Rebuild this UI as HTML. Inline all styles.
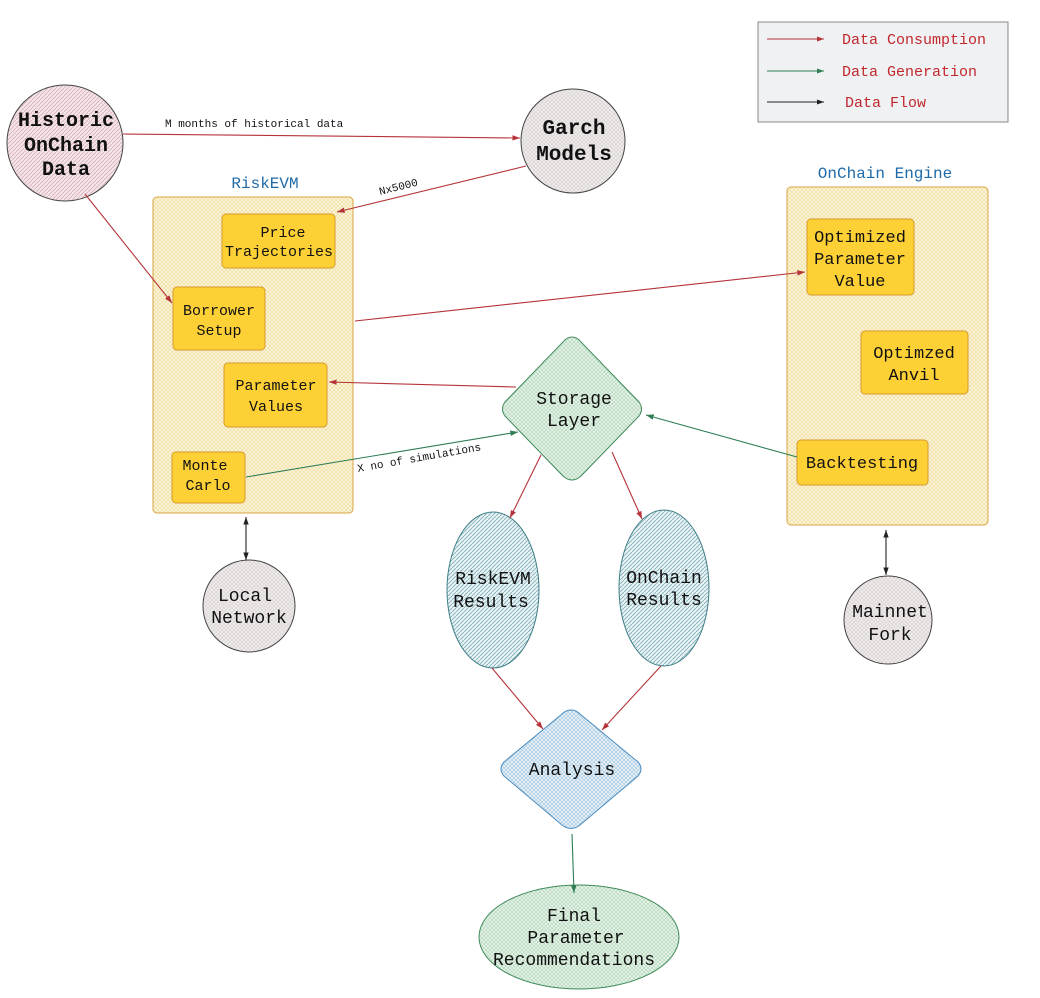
<!DOCTYPE html>
<html><head><style>body{margin:0;background:#fff}svg{display:block}text{font-family:"Liberation Mono","DejaVu Sans Mono",monospace}</style></head>
<body>
<svg width="1040" height="998" viewBox="0 0 1040 998" xmlns="http://www.w3.org/2000/svg">
<defs>
<pattern id="pk" width="4" height="4" patternUnits="userSpaceOnUse"><rect width="4" height="4" fill="#f3e4e7"/><path d="M0 4L4 0" stroke="#d6aab3" stroke-width="0.7"/></pattern>
<pattern id="gy" width="4" height="4" patternUnits="userSpaceOnUse"><rect width="4" height="4" fill="#efebeb"/><path d="M0 4L4 0M0 0L4 4" stroke="#cfc6c6" stroke-width="0.5"/></pattern>
<pattern id="yl" width="4" height="4" patternUnits="userSpaceOnUse"><rect width="4" height="4" fill="#fbf3d6"/><path d="M0 4L4 0M0 0L4 4" stroke="#e8d48c" stroke-width="0.5"/></pattern>
<pattern id="gn" width="4" height="4" patternUnits="userSpaceOnUse"><rect width="4" height="4" fill="#e3f1e6"/><path d="M0 4L4 0M0 0L4 4" stroke="#9ccaa6" stroke-width="0.5"/></pattern>
<pattern id="tl" width="4" height="4" patternUnits="userSpaceOnUse"><rect width="4" height="4" fill="#e8f1f3"/><path d="M0 4L4 0" stroke="#7fb0b8" stroke-width="0.8"/></pattern>
<pattern id="bl" width="4" height="4" patternUnits="userSpaceOnUse"><rect width="4" height="4" fill="#e3eef6"/><path d="M0 4L4 0M0 0L4 4" stroke="#8fb9d6" stroke-width="0.5"/></pattern>
<marker id="ar" markerWidth="8" markerHeight="8" refX="7" refY="4" orient="auto"><path d="M0 1.5L7 4L0 6.5z" fill="#b5343a"/></marker>
<marker id="ag" markerWidth="8" markerHeight="8" refX="7" refY="4" orient="auto"><path d="M0 1.5L7 4L0 6.5z" fill="#2e7d55"/></marker>
<marker id="ak" markerWidth="8" markerHeight="8" refX="7" refY="4" orient="auto"><path d="M0 1.5L7 4L0 6.5z" fill="#222"/></marker>
<marker id="aks" markerWidth="8" markerHeight="8" refX="1" refY="4" orient="auto"><path d="M8 1.5L1 4L8 6.5z" fill="#222"/></marker>
</defs>

<rect x="758" y="22" width="250" height="100" fill="#f0f1f3" stroke="#888"/>
<line x1="767" y1="39" x2="824" y2="39" stroke="#b5343a" marker-end="url(#ar)"/>
<line x1="767" y1="71" x2="824" y2="71" stroke="#2e7d55" marker-end="url(#ag)"/>
<line x1="767" y1="102" x2="824" y2="102" stroke="#222" marker-end="url(#ak)"/>
<g fill="#c0282e" font-size="15"><text x="842" y="44">Data Consumption</text><text x="842" y="76">Data Generation</text><text x="845" y="107">Data Flow</text></g>

<text x="265" y="188" font-size="16" fill="#1f6aa8" text-anchor="middle">RiskEVM</text>
<rect x="153" y="197" width="200" height="316" rx="4" fill="url(#yl)" stroke="#d9a441"/>
<text x="885" y="178" font-size="16" fill="#1f6aa8" text-anchor="middle">OnChain Engine</text>
<rect x="787" y="187" width="201" height="338" rx="4" fill="url(#yl)" stroke="#d9a441"/>

<g fill="#fdd135" stroke="#d69a2c">
<rect x="222" y="214" width="113" height="54" rx="4"/>
<rect x="173" y="287" width="92" height="63" rx="4"/>
<rect x="224" y="363" width="103" height="64" rx="4"/>
<rect x="172" y="452" width="73" height="51" rx="4"/>
<rect x="807" y="219" width="107" height="76" rx="4"/>
<rect x="861" y="331" width="107" height="63" rx="4"/>
<rect x="797" y="440" width="131" height="45" rx="4"/>
</g>
<g font-size="15" fill="#111" text-anchor="middle">
<text x="283" y="237">Price</text><text x="279" y="256" textLength="108">Trajectories</text>
<text x="219" y="315">Borrower</text><text x="219" y="335">Setup</text>
<text x="276" y="390">Parameter</text><text x="276" y="411">Values</text>
<text x="205" y="470">Monte</text><text x="208" y="490">Carlo</text>
<text x="860" y="242" font-size="17">Optimized</text><text x="860" y="264" font-size="17">Parameter</text><text x="860" y="286" font-size="17">Value</text>
<text x="914" y="358" font-size="17">Optimzed</text><text x="914" y="380" font-size="17">Anvil</text>
<text x="862" y="468" font-size="17">Backtesting</text>
</g>

<circle cx="65" cy="143" r="58" fill="url(#pk)" stroke="#444"/>
<g font-size="20" text-anchor="middle" fill="#111" font-weight="bold"><text x="66" y="126">Historic</text><text x="66" y="151">OnChain</text><text x="66" y="175">Data</text></g>
<circle cx="573" cy="141" r="52" fill="url(#gy)" stroke="#444"/>
<g font-size="21" text-anchor="middle" fill="#111" font-weight="bold"><text x="574" y="134">Garch</text><text x="574" y="160">Models</text></g>
<circle cx="249" cy="606" r="46" fill="url(#gy)" stroke="#444"/>
<g font-size="18" text-anchor="middle" fill="#111"><text x="245" y="601">Local</text><text x="249" y="623">Network</text></g>
<circle cx="888" cy="620" r="44" fill="url(#gy)" stroke="#444"/>
<g font-size="18" text-anchor="middle" fill="#111"><text x="890" y="617">Mainnet</text><text x="890" y="640">Fork</text></g>

<path d="M572 337 Q577 337 581 342 L639 402 Q644 409 639 416 L581 476 Q572 484 563 476 L505 416 Q500 409 505 402 L563 342 Q567 337 572 337z" fill="url(#gn)" stroke="#3f8a5a"/>
<g font-size="18" text-anchor="middle" fill="#111"><text x="574" y="404">Storage</text><text x="574" y="426">Layer</text></g>
<ellipse cx="493" cy="590" rx="46" ry="78" fill="url(#tl)" stroke="#3f7f88"/>
<ellipse cx="664" cy="588" rx="45" ry="78" fill="url(#tl)" stroke="#3f7f88"/>
<g font-size="18" text-anchor="middle" fill="#111"><text x="493" y="584">RiskEVM</text><text x="491" y="607">Results</text><text x="664" y="583">OnChain</text><text x="664" y="605">Results</text></g>
<path d="M571 710 Q576 710 580 714 L638 762 Q644 769 638 776 L580 825 Q571 832 562 825 L504 776 Q498 769 504 762 L562 714 Q566 710 571 710z" fill="url(#bl)" stroke="#4a8cc0"/>
<text x="572" y="775" font-size="18" text-anchor="middle" fill="#111">Analysis</text>
<ellipse cx="579" cy="937" rx="100" ry="52" fill="url(#gn)" stroke="#3f8a5a"/>
<g font-size="18" text-anchor="middle" fill="#111"><text x="574" y="921">Final</text><text x="576" y="943">Parameter</text><text x="574" y="965">Recommendations</text></g>

<g stroke="#b5343a" stroke-width="1.1" fill="none" marker-end="url(#ar)">
<line x1="123" y1="134" x2="520" y2="138"/>
<line x1="526" y1="166" x2="337" y2="212"/>
<line x1="85" y1="194" x2="172" y2="303"/>
<line x1="355" y1="321" x2="805" y2="272"/>
<line x1="516" y1="387" x2="329" y2="382"/>
<line x1="541" y1="455" x2="510" y2="518"/>
<line x1="612" y1="452" x2="642" y2="519"/>
<line x1="492" y1="668" x2="543" y2="729"/>
<line x1="661" y1="666" x2="602" y2="730"/>
</g>
<g stroke="#2e7d55" stroke-width="1.1" fill="none" marker-end="url(#ag)">
<line x1="246" y1="477" x2="518" y2="432"/>
<line x1="797" y1="457" x2="646" y2="415"/>
<line x1="572" y1="834" x2="574" y2="893"/>
</g>
<g stroke="#222" stroke-width="1.1" marker-end="url(#ak)" marker-start="url(#aks)">
<line x1="246" y1="517" x2="246" y2="560"/>
<line x1="886" y1="530" x2="886" y2="575"/>
</g>
<g font-size="11" fill="#111">
<text x="165" y="127">M months of historical data</text>
<text x="380" y="195" transform="rotate(-14 380 195)">Nx5000</text>
<text x="358" y="472" transform="rotate(-10 358 472)">X no of simulations</text>
</g>
</svg>
</body></html>
